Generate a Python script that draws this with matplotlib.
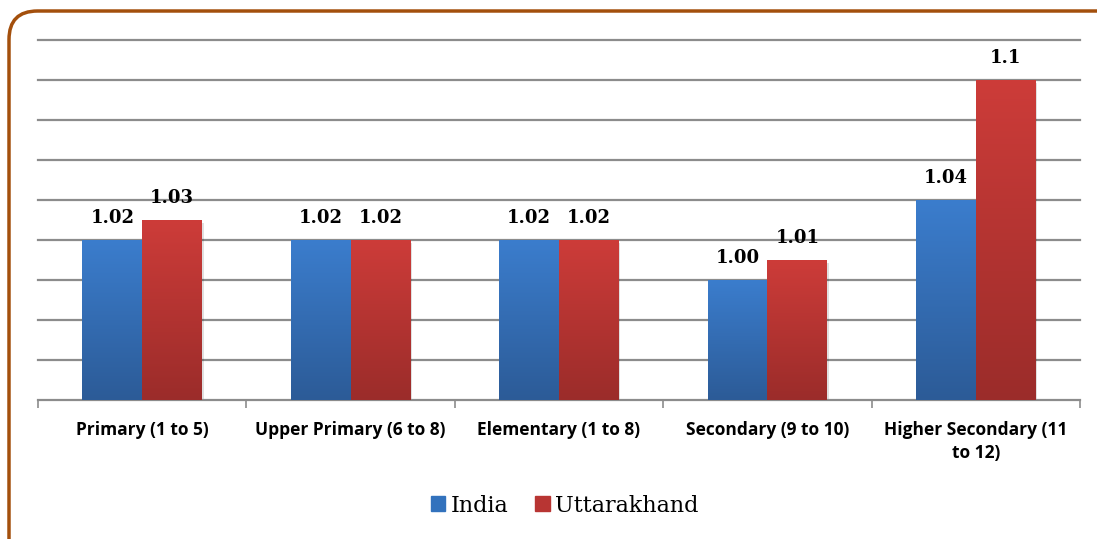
import numpy as np
import matplotlib
matplotlib.use("Agg")
import matplotlib.pyplot as plt
from matplotlib.patches import FancyBboxPatch, Rectangle
from matplotlib.colors import LinearSegmentedColormap

categories = ["Primary (1 to 5)", "Upper Primary (6 to 8)", "Elementary (1 to 8)",
              "Secondary (9 to 10)", "Higher Secondary (11\nto 12)"]
india = [1.02, 1.02, 1.02, 1.00, 1.04]
uttarakhand = [1.03, 1.02, 1.02, 1.01, 1.10]
india_labels = ["1.02", "1.02", "1.02", "1.00", "1.04"]
uk_labels = ["1.03", "1.02", "1.02", "1.01", "1.1"]

fig = plt.figure(figsize=(10.97, 5.39), dpi=100)
ax = fig.add_axes([38/1097, 139/539, 1042/1097, 360/539])

ymin = 0.94
ax.set_ylim(ymin, 1.12)
ax.set_xlim(-0.5, len(categories) - 0.5)

blue_cm = LinearSegmentedColormap.from_list("b", ["#2c5b97", "#3b7dcd"])
red_cm = LinearSegmentedColormap.from_list("r", ["#9b2c2a", "#cd3c39"])
grad = np.linspace(0, 1, 256).reshape(-1, 1)

w = 0.287
x = np.arange(len(categories))

def grad_bars(xs, vals, cm, base):
    bars = ax.bar(xs, np.array(vals) - ymin, w, bottom=ymin, color=base, zorder=3)
    for b in bars:
        # soft shadow
        ax.add_patch(Rectangle((b.get_x() + 0.008, ymin), b.get_width(), b.get_height() - 0.0015,
                               color="#000000", alpha=0.12, zorder=2.5, lw=0))
        im = ax.imshow(grad, cmap=cm, aspect="auto", origin="lower",
                       extent=[b.get_x(), b.get_x() + b.get_width(), ymin, ymin + b.get_height()],
                       zorder=3.5)
        im.set_clip_path(b)
    return bars

grad_bars(x - w/2, india, blue_cm, "#3776c2")
grad_bars(x + w/2, uttarakhand, red_cm, "#c43a37")

for i in range(len(categories)):
    ax.text(x[i] - w/2, india[i] + 0.0065, india_labels[i], ha="center", va="bottom",
            fontsize=13, fontweight="bold", family="DejaVu Serif", zorder=5)
    ax.text(x[i] + w/2, uttarakhand[i] + 0.0065, uk_labels[i], ha="center", va="bottom",
            fontsize=13, fontweight="bold", family="DejaVu Serif", zorder=5)

ax.set_yticks(np.arange(0.96, 1.1201, 0.02))
ax.yaxis.grid(True, color="#8c8c8c", lw=1.6, zorder=0)
for gl in ax.get_ygridlines():
    gl.set_clip_on(False)
ax.tick_params(axis="y", length=0, labelleft=False)
ax.set_axisbelow(True)

ax.set_xticks(np.arange(-0.5, len(categories)))
ax.set_xticklabels([])
ax.tick_params(axis="x", length=6, width=1.2, color="#8c8c8c")
for i, c in enumerate(categories):
    ax.text(x[i], 0.9295, c, ha="center", va="top", fontsize=12.5,
            fontweight="bold", family="Open Sans", linespacing=1.35,
            clip_on=False)

for s in ["top", "right", "left"]:
    ax.spines[s].set_visible(False)
ax.spines["bottom"].set_color("#8c8c8c")
ax.spines["bottom"].set_linewidth(1.6)

h1 = Rectangle((0, 0), 1, 1, color="#3272bd")
h2 = Rectangle((0, 0), 1, 1, color="#b83533")
fig.legend([h1, h2], ["India", "Uttarakhand"], loc="center", bbox_to_anchor=(0.515, 0.062),
           ncol=2, frameon=False, prop={"family": "DejaVu Serif", "size": 16},
           handlelength=0.65, handleheight=0.65, handletextpad=0.25, columnspacing=1.2)

border = FancyBboxPatch((9/1097, -0.3), 1.2, 1.3 - 11/539,
                        boxstyle="round,pad=0,rounding_size=0.026",
                        transform=fig.transFigure, fill=False, ec="#a34f0c", lw=2.5,
                        mutation_aspect=1097/539)
fig.patches.append(border)

fig.savefig("out.png", dpi=100)
